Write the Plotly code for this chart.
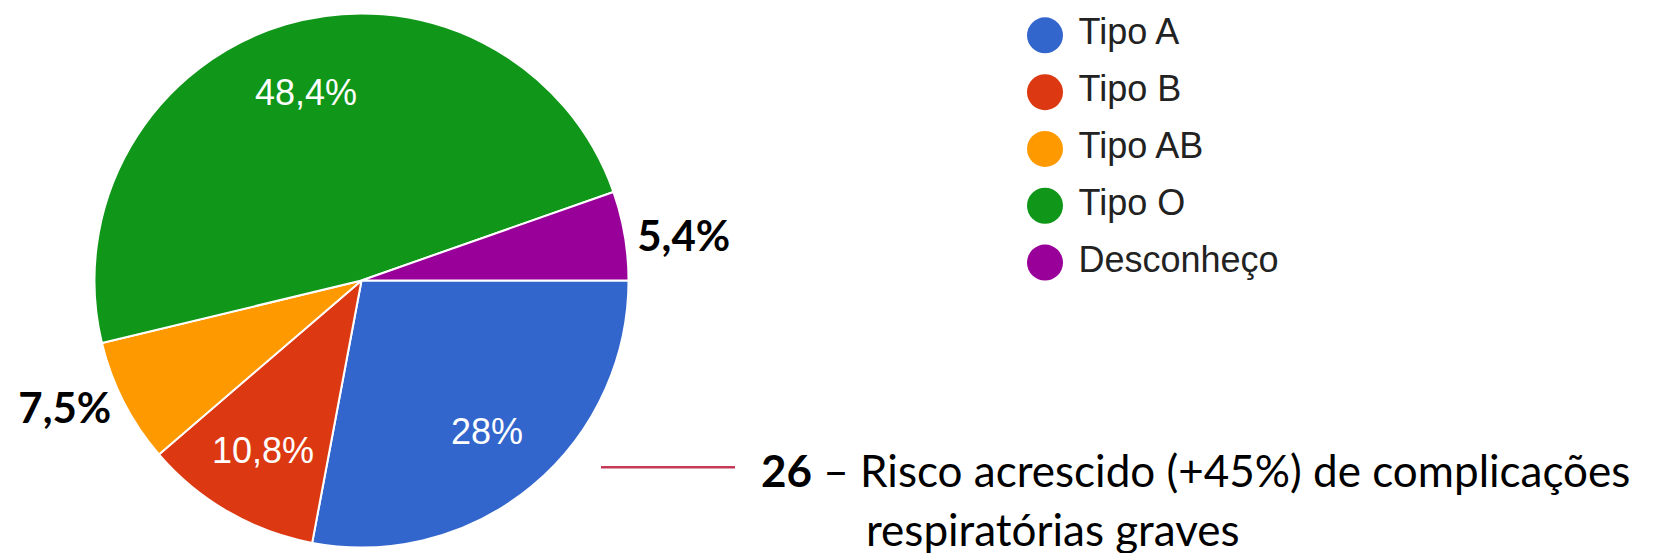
import math
import plotly.graph_objects as go

categories = ["Tipo A", "Tipo B", "Tipo AB", "Tipo O", "Desconheço"]
counts = [26, 10, 7, 45, 5]
colors = ["#3366cc", "#dc3912", "#ff9900", "#109618", "#990099"]
outside_slices = [False, False, True, False, True]
note_bold = "26"
note_line1 = " – Risco acrescido (+45%) de complicações"
note_line2 = "respiratórias graves"

W, H = 1653, 553

# pie geometry (pixels)
CX, CY, R = 361.5, 281.5, 268.0
dom_x = [(CX - R) / W, (CX + R) / W]
dom_y = [(H - CY - R) / H, (H - CY + R) / H]

fig = go.Figure()

fig.add_trace(go.Pie(
    labels=categories,
    values=counts,
    sort=False,
    direction="clockwise",
    rotation=90,
    marker=dict(colors=colors, line=dict(color="white", width=2)),
    texttemplate="%{percent:.1~%}",
    textposition=["outside" if o else "none" for o in outside_slices],
    outsidetextfont=dict(family="Lato, sans-serif", size=42, color="black", weight="bold"),
    domain=dict(x=dom_x, y=dom_y),
    showlegend=False,
    hoverinfo="skip",
))

# inside percentage labels, placed along each slice's mid-angle
total = sum(counts)
annotations = []
cum = 0
for c, o in zip(counts, outside_slices):
    mid = (cum + c / 2) / total * 2 * math.pi
    cum += c
    if o:
        continue
    pct = f"{100 * c / total:.1f}".rstrip("0").rstrip(".").replace(".", ",") + "%"
    d = 0.735 * R
    px = CX + d * math.cos(mid)
    py = CY + d * math.sin(mid)
    annotations.append(dict(
        xref="paper", yref="paper", x=px / W, y=1 - py / H,
        xanchor="center", yanchor="middle", showarrow=False, text=pct,
        font=dict(family="Arial, Liberation Sans, sans-serif", size=36, color="white"),
    ))

# legend drawn as a scatter of circles with labels
fig.add_trace(go.Scatter(
    x=[0] * len(categories),
    y=list(range(len(categories))),
    mode="markers+text",
    marker=dict(size=36, color=colors, symbol="circle"),
    text=categories,
    texttemplate="\u00a0%{text}",
    textposition="middle right",
    textfont=dict(family="Arial, Liberation Sans, sans-serif", size=36, color="#222222"),
    showlegend=False,
    hoverinfo="skip",
    cliponaxis=False,
))

LX = 1045
xoff = (LX - 0.6 * W) / (0.4 * W)
LTOP, LBOT = 7.0, 292.0

annotations += [
    dict(xref="paper", yref="paper", x=759 / W, y=1 - 472 / H, xanchor="left", yanchor="middle",
         text="<b>" + note_bold + "</b>" + note_line1, showarrow=False,
         font=dict(family="Lato, sans-serif", size=44, color="black")),
    dict(xref="paper", yref="paper", x=864 / W, y=1 - 531 / H, xanchor="left", yanchor="middle",
         text=note_line2, showarrow=False,
         font=dict(family="Lato, sans-serif", size=44, color="black")),
]

fig.update_layout(
    width=W, height=H,
    margin=dict(l=0, r=0, t=0, b=0),
    paper_bgcolor="white",
    plot_bgcolor="white",
    separators=",.",
    xaxis=dict(domain=[0.6, 1.0], range=[-xoff, 1 - xoff], visible=False, fixedrange=True),
    yaxis=dict(domain=[1 - LBOT / H, 1 - LTOP / H], range=[4.5, -0.5], visible=False, fixedrange=True),
    shapes=[dict(type="line", xref="paper", yref="paper",
                 x0=601 / W, x1=735 / W, y0=1 - 469 / H, y1=1 - 469 / H,
                 line=dict(color="#c43b57", width=2.5))],
    annotations=annotations,
)

fig.write_html("out.html", config={"displayModeBar": False},
               post_script="document.body.style.margin='0';")
